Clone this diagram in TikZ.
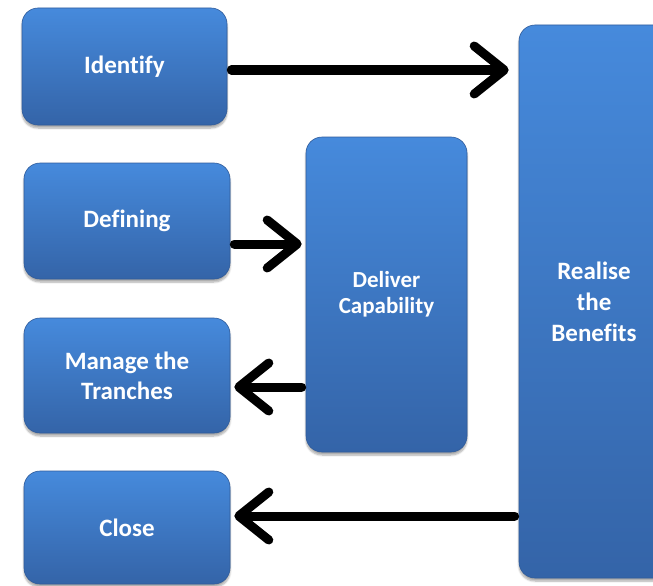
\documentclass[tikz,border=0pt]{standalone}
\usepackage{fontspec}
\setmainfont[Ligatures=NoCommon]{Carlito}
\usetikzlibrary{arrows.meta,shadows.blur,calc}
\definecolor{boxtop}{RGB}{70,138,220}
\definecolor{boxbot}{RGB}{52,100,168}
\definecolor{boxedge}{RGB}{48,92,155}
\tikzset{
  stage/.style={rounded corners=16pt, top color=boxtop, bottom color=boxbot,
    draw=boxedge, line width=0.6pt,
    blur shadow={shadow xshift=0pt, shadow yshift=-3pt, shadow blur steps=6, shadow opacity=35},
    text=white, font=\bfseries\fontsize{25}{30}\selectfont, align=center},
  flow/.style={line width=9pt, line cap=round,
    -{Straight Barb[length=30pt, width=48pt, line cap=round, line join=round]}}
}
\begin{document}
\begin{tikzpicture}[x=1pt, y=-1pt]
  \useasboundingbox (0,0) rectangle (653,586);
  \begin{scope}
    \clip (0,0) rectangle (653,586);
    % left column
    \node[stage, minimum width=205pt, minimum height=117pt] (iden) at (124.5,66.5) {Identify};
    \node[stage, minimum width=206pt, minimum height=116pt] (defn) at (127,221) {Defining};
    \node[stage, minimum width=206pt, minimum height=115pt] (mang) at (127,375.5) {Manage the\\Tranches};
    \node[stage, minimum width=206pt, minimum height=113pt] (clos) at (127,527.5) {Close};
    % middle and right stages
    \node[stage, minimum width=161pt, minimum height=315pt,
          font=\bfseries\fontsize{23}{26}\selectfont] (dlvr) at (386.5,294.5) {Deliver\\Capability};
    \node[stage, minimum width=151pt, minimum height=553pt, text width=140pt] (real) at (594.5,301.5) {};
    \node[text=white, font=\bfseries\fontsize{25}{31}\selectfont, align=center] (realtxt) at (594,302) {Realise\\the\\Benefits};
    % connectors
    \coordinate (a1) at (iden.east |- 0,70);
    \coordinate (a2) at (defn.east |- 0,244);
    \coordinate (a3) at (mang.east |- 0,387);
    \coordinate (a4) at (clos.east |- 0,516);
    \draw[flow, shorten <=4pt, shorten >=10pt] (a1) -- (real.west |- a1);
    \draw[flow, shorten <=4pt, shorten >=4pt] (a2) -- (dlvr.west |- a2);
    \draw[flow, shorten <=4pt, shorten >=4pt] (dlvr.west |- a3) -- (a3);
    \draw[flow, shorten <=4pt, shorten >=4pt] (real.west |- a4) -- (a4);
  \end{scope}
\end{tikzpicture}
\end{document}
